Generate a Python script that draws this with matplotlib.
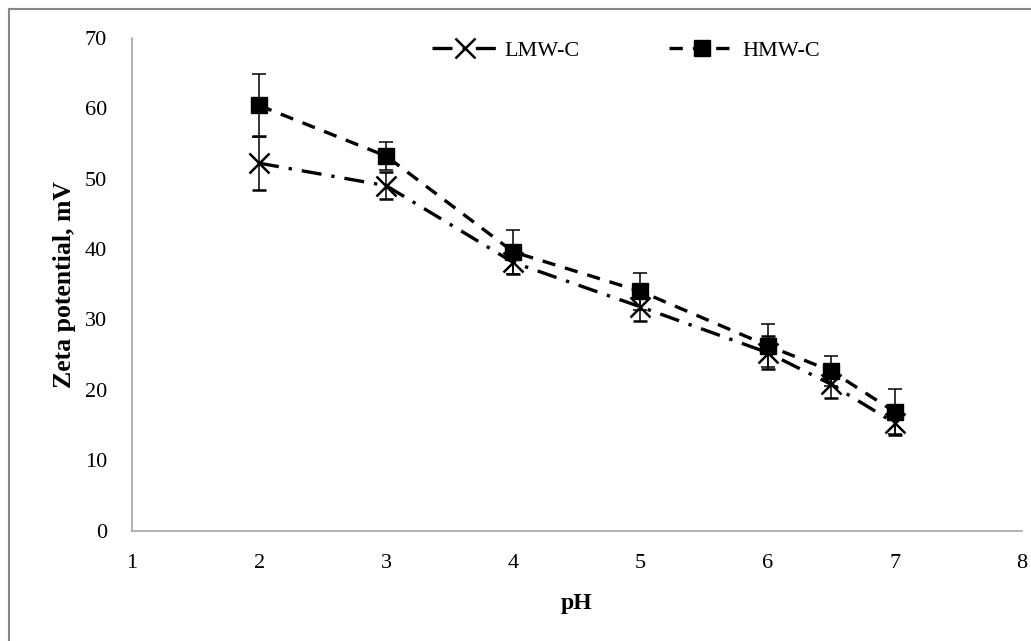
import matplotlib.pyplot as plt
from matplotlib.lines import Line2D

plt.rcParams['font.family'] = ['Liberation Serif', 'DejaVu Serif']

ph = [2, 3, 4, 5, 6, 6.5, 7]
lmw = [52.2, 49.0, 38.1, 31.8, 25.3, 20.8, 15.3]
lmw_err = [3.8, 1.9, 1.6, 2.0, 2.3, 1.9, 1.7]
hmw = [60.4, 53.2, 39.6, 34.0, 26.3, 22.7, 16.9]
hmw_err = [4.5, 2.0, 3.1, 2.6, 3.1, 2.1, 3.2]

lmw_style = dict(color='black', linestyle=(0, (6, 3, 1, 3)), linewidth=2.4,
                 marker='x', markersize=14, markeredgewidth=1.8)
hmw_style = dict(color='black', linestyle=(0, (4, 3)), linewidth=2.4,
                 marker='s', markersize=11)

fig = plt.figure(figsize=(10.31, 6.41), dpi=100)
ax = fig.add_axes([0.128, 0.172, 0.863, 0.769])

ax.errorbar(ph, lmw, yerr=lmw_err, ecolor='black', elinewidth=1.1,
            capsize=5, capthick=1.1, **lmw_style)
ax.errorbar(ph, hmw, yerr=hmw_err, ecolor='black', elinewidth=1.1,
            capsize=5, capthick=1.1, **hmw_style)

ax.set_xlim(1, 8)
ax.set_ylim(0, 70)
ax.set_xticks(range(1, 9))
ax.set_yticks(range(0, 71, 10))
for s in ['top', 'right']:
    ax.spines[s].set_visible(False)
for s in ['left', 'bottom']:
    ax.spines[s].set_color('#a6a6a6')
    ax.spines[s].set_linewidth(1.2)
ax.tick_params(length=0, labelsize=16)
ax.tick_params(axis='x', pad=17)
ax.tick_params(axis='y', pad=18)
ax.set_xlabel('pH', fontsize=17, fontweight='bold', labelpad=14)
ax.set_ylabel('Zeta potential, mV', fontsize=18.5, fontweight='bold', labelpad=6)

handles = [Line2D([], [], **lmw_style), Line2D([], [], **hmw_style)]
ax.legend(handles, ['LMW-C', 'HMW-C'], loc='upper center', bbox_to_anchor=(0.555, 1.035), ncol=2,
          frameon=False, fontsize=16, columnspacing=4, handlelength=3, handletextpad=0.3)

fig.add_artist(Line2D([9 / 1031, 9 / 1031], [0, 1 - 9 / 641], color='#888888', linewidth=1.5))
fig.add_artist(Line2D([9 / 1031, 1], [1 - 9 / 641, 1 - 9 / 641], color='#888888', linewidth=1.5))

fig.savefig('out.png', dpi=100)
